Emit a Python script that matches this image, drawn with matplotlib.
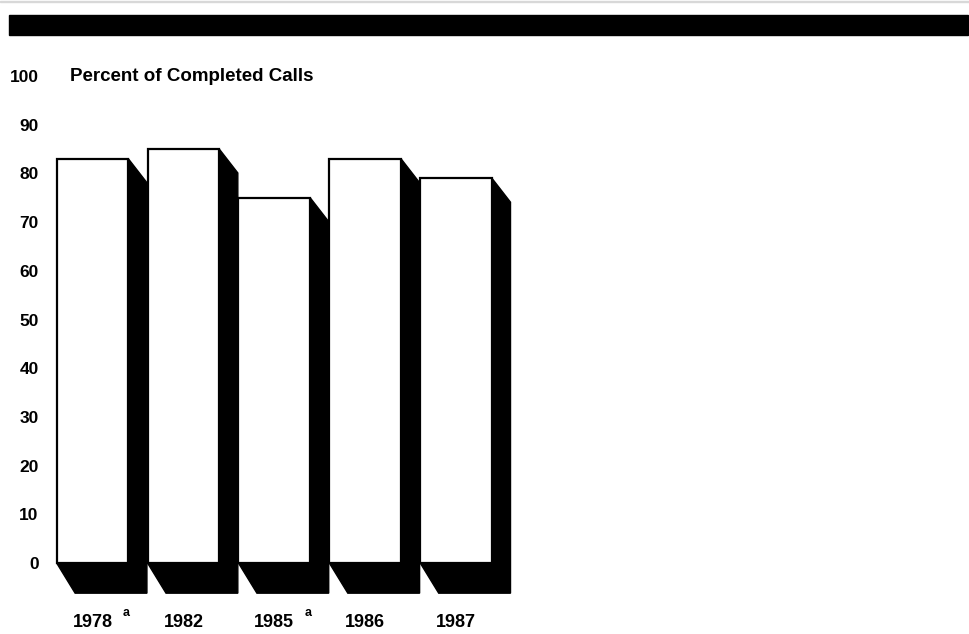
import matplotlib.pyplot as plt
import matplotlib.patches as mpatches
import numpy as np

plt.rcParams['font.family'] = ['Liberation Sans', 'DejaVu Sans']
plt.rcParams['font.weight'] = 'bold'

# data
years = ['1978', '1982', '1985', '1986', '1987']
percent = [83, 85, 75, 83, 79]
footnote = ['a', '', 'a', '', '']

W, H = 969, 634
fig = plt.figure(figsize=(W / 100, H / 100), dpi=100)

# black rule across the top
fig.patches.append(mpatches.Rectangle((9 / W, (H - 35) / H), 959 / W, 20 / H,
                                      transform=fig.transFigure, color='black'))
fig.patches.append(mpatches.Rectangle((0, (H - 2) / H), 1, 1.5 / H,
                                      transform=fig.transFigure, color='#d8d8d8'))

ax = fig.add_axes([40 / W, 34 / H, 500 / W, 540 / H])
ax.set_xlim(-0.578, 4.923)
ax.set_ylim(-7.6, 103.3)
for s in ax.spines.values():
    s.set_visible(False)

x = np.arange(len(years))
w = 0.79
dx, dyt, dyb = 0.2035, 4.9, 6.2  # depth of the shadow

bars = ax.bar(x, percent, width=w, color='white', edgecolor='black', linewidth=1.6)
for i, (b, h) in enumerate(zip(bars, percent)):
    x0, x1 = i - w / 2, i + w / 2
    shadow = mpatches.Polygon([(x1, h), (x1 + dx, h - dyt), (x1 + dx, -dyb),
                               (x0 + dx, -dyb), (x0, 0), (x1, 0)],
                              closed=True, color='black', zorder=2 + 2 * i)
    ax.add_patch(shadow)
    b.set_zorder(3 + 2 * i)

ax.set_yticks(range(0, 101, 10))
ax.set_yticklabels([str(v) for v in range(0, 101, 10)], fontsize=12.5)
ax.set_xticks(x)
ax.set_xticklabels(years, fontsize=13)
ax.tick_params(axis='y', length=0, pad=1)
ax.tick_params(axis='x', length=0, pad=10)

# footnote marks next to the year labels
for i, f in enumerate(footnote):
    if f:
        ax.annotate(f, (i, -7.6), xytext=(24, -9), textcoords='offset points',
                    fontsize=9, fontweight='heavy', ha='center', va='center')

ax.text(-0.25, 100, 'Percent of Completed Calls', fontsize=13.5,
        ha='left', va='center')

fig.savefig('out.png', dpi=100)
